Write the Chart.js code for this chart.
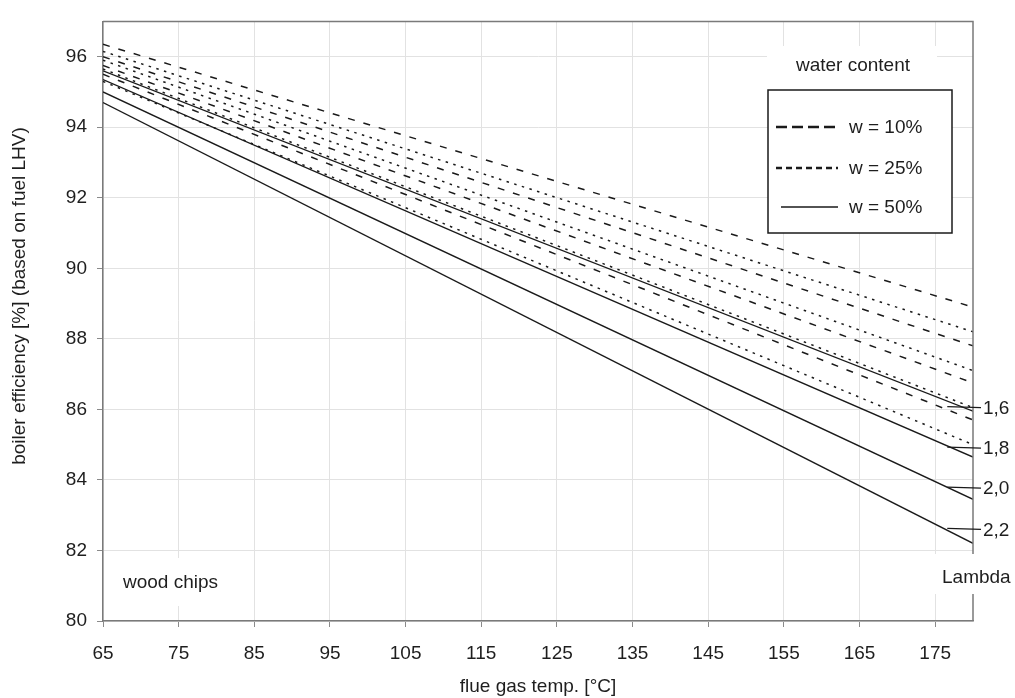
<!DOCTYPE html>
<html><head><meta charset="utf-8">
<script src="https://cdn.jsdelivr.net/npm/chart.js@4"></script>
<style>html,body{margin:0;padding:0;background:#fff}#wrap{width:1015px;height:698px;position:relative}</style>
</head><body><div id="wrap"><canvas id="c"></canvas></div>
<script>
// ---- data ----
const flueTemps = [65, 180];
const lambdaLabels = ['1,6', '1,8', '2,0', '2,2'];
const w10At65  = [96.35, 96.0, 95.75, 95.5];
const w10At180 = [88.9, 87.8, 86.75, 85.7];
const w25At65  = [96.15, 95.9, 95.65, 95.3];
const w25At180 = [88.2, 87.1, 86.05, 85.0];
const w50At65  = [95.6, 95.35, 95.0, 94.7];
const w50At180 = [85.95, 84.65, 83.45, 82.2];
const xTicks = [65, 75, 85, 95, 105, 115, 125, 135, 145, 155, 165, 175];
const yTicks = [80, 82, 84, 86, 88, 90, 92, 94, 96];
const legendTitle = 'water content';
const legendLabels = ['w = 10%', 'w = 25%', 'w = 50%'];
const fuelLabel = 'wood chips';
const lambdaTitle = 'Lambda';
const xTitle = 'flue gas temp. [°C]';
const yTitle = 'boiler efficiency [%] (based on fuel LHV)';

const FONT = "'Liberation Sans', Arial, sans-serif";
const FS = 19;
const LINE = '#1a1a1a';
const TXT = '#1e1e1e';

const groups = [
  {name: legendLabels[0], a: w10At65, b: w10At180, dash: [7, 9], lw: 1.5},
  {name: legendLabels[1], a: w25At65, b: w25At180, dash: [2.5, 5.5], lw: 1.5},
  {name: legendLabels[2], a: w50At65, b: w50At180, dash: [], lw: 1.4}
];
const datasets = [];
groups.forEach(g => {
  lambdaLabels.forEach((lam, i) => {
    datasets.push({
      label: g.name + ' λ ' + lam,
      data: flueTemps.map((t, k) => ({x: t, y: k === 0 ? g.a[i] : g.b[i]})),
      borderColor: LINE, borderWidth: g.lw, borderDash: g.dash,
      pointRadius: 0, fill: false, tension: 0
    });
  });
});

const annot = {
  id: 'annot',
  afterDatasetsDraw(chart) {
    const {ctx, chartArea: ca, scales: {x, y}} = chart;
    ctx.save();
    // frame top & right
    ctx.strokeStyle = '#7a7a7a'; ctx.lineWidth = 1.5;
    ctx.beginPath();
    ctx.moveTo(ca.left, ca.top); ctx.lineTo(ca.right, ca.top); ctx.lineTo(ca.right, ca.bottom);
    ctx.stroke();

    ctx.font = FS + 'px ' + FONT;
    ctx.textBaseline = 'middle';

    // y axis title (rotated)
    ctx.save();
    ctx.translate(20, 296);
    ctx.rotate(-Math.PI / 2);
    ctx.textAlign = 'center';
    ctx.fillStyle = TXT;
    ctx.fillText(yTitle, 0, 0);
    ctx.restore();

    // water content title (white background)
    ctx.fillStyle = '#fff';
    ctx.fillRect(767, 46, 170, 44);
    ctx.fillStyle = TXT;
    ctx.textAlign = 'center';
    ctx.fillText(legendTitle, 853, 66);

    // legend box
    ctx.fillStyle = '#fff';
    ctx.fillRect(768, 90, 184, 143);
    ctx.strokeStyle = '#1a1a1a'; ctx.lineWidth = 1.5;
    ctx.strokeRect(768, 90, 184, 143);
    const ly = [127, 168, 207];
    const ldash = [[11, 5], [6, 4], []];
    const llw = [2.4, 2.4, 1.3];
    const lx0 = [776, 776, 781];
    ly.forEach((yy, i) => {
      ctx.setLineDash(ldash[i]);
      ctx.lineWidth = llw[i];
      ctx.strokeStyle = '#1a1a1a';
      ctx.beginPath(); ctx.moveTo(lx0[i], yy); ctx.lineTo(838, yy); ctx.stroke();
      ctx.setLineDash([]);
      ctx.textAlign = 'left';
      ctx.fillStyle = TXT;
      ctx.fillText(legendLabels[i], 849, yy + 1);
    });

    // wood chips
    ctx.fillStyle = '#fff';
    ctx.fillRect(117, 558, 114, 48);
    ctx.fillStyle = TXT;
    ctx.textAlign = 'left';
    ctx.fillText(fuelLabel, 123, 583);

    // Lambda label with white background (interrupts frame)
    ctx.fillStyle = '#fff';
    ctx.fillRect(ca.right - 44, 554, 90, 40);
    ctx.fillStyle = TXT;
    ctx.fillText(lambdaTitle, ca.right - 31, 578);

    // lambda leader lines and labels
    const anchorY = [86.05, 84.9, 83.77, 82.6];
    ctx.strokeStyle = '#1a1a1a'; ctx.lineWidth = 1.3;
    anchorY.forEach((v, i) => {
      const py = y.getPixelForValue(v);
      const x0 = x.getPixelForValue(176.6);
      ctx.beginPath(); ctx.moveTo(x0, py - 1); ctx.lineTo(ca.right + 8, py); ctx.stroke();
      ctx.fillText(lambdaLabels[i], ca.right + 10, py + 1);
    });
    ctx.restore();
  }
};

new Chart(document.getElementById('c'), {
  type: 'line',
  data: {datasets},
  options: {
    responsive: true, maintainAspectRatio: false, animation: false,
    layout: {padding: {top: 17, right: 42, left: 0, bottom: 0}},
    plugins: {legend: {display: false}, tooltip: {enabled: false}},
    scales: {
      x: {
        type: 'linear', min: 65, max: 180,
        afterBuildTicks: s => { s.ticks = xTicks.map(v => ({value: v})); },
        afterFit: s => { s.height = 77; },
        grid: {color: '#e2e2e2', lineWidth: 1, tickLength: 6, tickColor: '#8a8a8a'},
        border: {color: '#7a7a7a', width: 1.5},
        ticks: {color: TXT, font: {family: FONT, size: FS}, padding: 15, maxRotation: 0, autoSkip: false},
        title: {display: true, text: xTitle, color: TXT, font: {family: FONT, size: FS}, padding: {top: 0, bottom: 0}}
      },
      y: {
        min: 80, max: 97,
        afterBuildTicks: s => { s.ticks = yTicks.map(v => ({value: v})); },
        afterFit: s => { s.width = 103; },
        grid: {color: '#e2e2e2', lineWidth: 1, tickLength: 6, tickColor: '#8a8a8a'},
        border: {color: '#7a7a7a', width: 1.5},
        ticks: {color: TXT, font: {family: FONT, size: FS}, padding: 10, autoSkip: false},
        title: {display: false}
      }
    }
  },
  plugins: [annot]
});
</script></body></html>
